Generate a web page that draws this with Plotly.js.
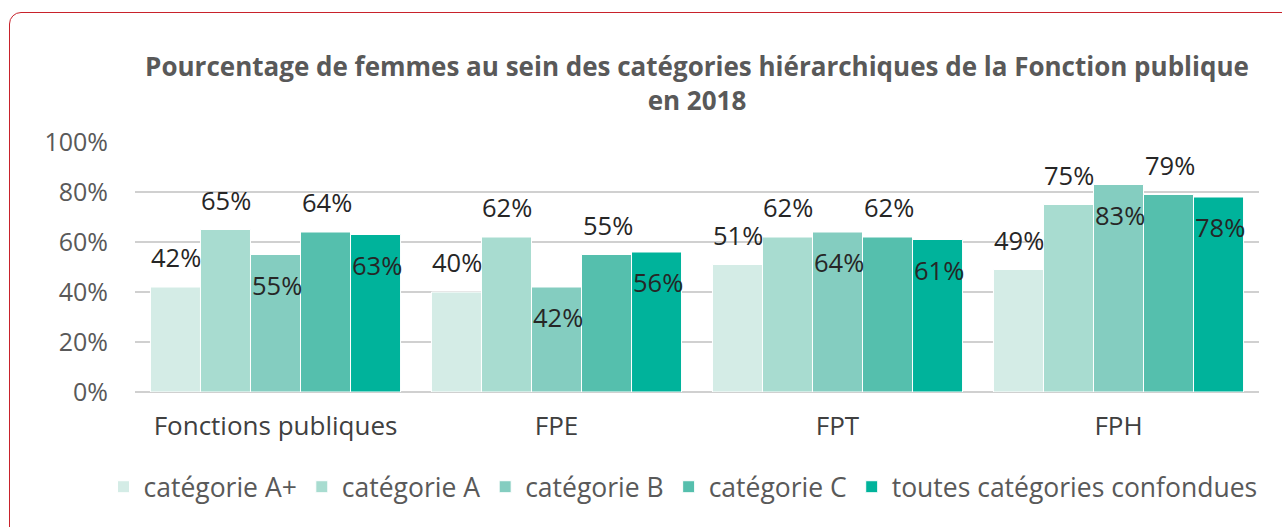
<!DOCTYPE html>
<html>
<head>
<meta charset="utf-8">
<script src="https://cdn.plot.ly/plotly-3.0.1.min.js"></script>
<style>
  html, body { margin: 0; padding: 0; background: #ffffff; overflow: hidden; }
  #chart { width: 1282px; height: 527px; position: absolute; left: 0; top: 0; }
  #frame { position: absolute; left: 9px; top: 12px; width: 1400px; height: 700px;
           border: 1.5px solid #c8222b; border-radius: 12px; pointer-events: none; box-sizing: border-box; }
</style>
</head>
<body>
<div id="chart"></div>
<div id="frame"></div>
<script>
const categories = ["Fonctions publiques", "FPE", "FPT", "FPH"];
const seriesNames = ["catégorie A+", "catégorie A", "catégorie B", "catégorie C", "toutes catégories confondues"];
const catAPlus = [0.42, 0.40, 0.51, 0.49];
const catA = [0.65, 0.62, 0.62, 0.75];
const catB = [0.55, 0.42, 0.64, 0.83];
const catC = [0.64, 0.55, 0.62, 0.79];
const toutes = [0.63, 0.56, 0.61, 0.78];
const seriesValues = [catAPlus, catA, catB, catC, toutes];
const colors = ["#d4ece6", "#a8dcd0", "#84cdc0", "#55bfad", "#00b39b"];
// label placement per series: above (-1) or inside (+1) the bar top
const labelSide = [-1, -1, 1, -1, 1];

const FONT = "'Open Sans', sans-serif";

const traces = seriesValues.map((vals, i) => ({
  type: "bar",
  name: seriesNames[i],
  x: categories,
  y: vals,
  marker: { color: colors[i], line: { color: "#ffffff", width: 1 } },
  hoverinfo: "skip"
}));

const bargap = 0.11;
const plotLeft = 135, plotRight = 1259;
const catWidth = (plotRight - plotLeft) / categories.length;
const barW = catWidth * (1 - bargap) / seriesValues.length;

const annotations = [];
seriesValues.forEach((vals, i) => {
  vals.forEach((v, j) => {
    annotations.push({
      x: categories[j], y: v, xref: "x", yref: "y",
      text: Math.round(v * 100) + "%",
      showarrow: false,
      xshift: (i - 2) * barW + 1,
      yshift: -labelSide[i] * 30,
      font: { family: FONT, size: 25.5, color: "#262626" }
    });
  });
});

const layout = {
  width: 1282, height: 527,
  margin: { l: plotLeft, r: 1282 - plotRight, t: 142, b: 135, autoexpand: false },
  paper_bgcolor: "#ffffff", plot_bgcolor: "#ffffff",
  barmode: "group", bargap: bargap, bargroupgap: 0,
  title: {
    text: "<b>Pourcentage de femmes au sein des catégories hiérarchiques de la Fonction publique<br>en 2018</b>",
    font: { family: FONT, size: 26, color: "#595959" },
    x: 0.5, xref: "paper", xanchor: "center",
    y: 1 - 76 / 527, yref: "container", yanchor: "middle"
  },
  xaxis: {
    type: "category",
    tickfont: { family: FONT, size: 26, color: "#404040" },
    showgrid: false, showline: false, zeroline: false,
    ticks: "outside", ticklen: 11, tickcolor: "rgba(0,0,0,0)"
  },
  yaxis: {
    range: [0, 1], dtick: 0.2, tickformat: ".0%",
    tickfont: { family: FONT, size: 25, color: "#595959" },
    showgrid: true, gridcolor: "#d0d0d0", gridwidth: 1.5,
    zeroline: true, zerolinecolor: "#d0d0d0", zerolinewidth: 1.5,
    showline: false,
    ticks: "outside", ticklen: 21, tickcolor: "rgba(0,0,0,0)"
  },
  legend: {
    orientation: "h", x: -0.028, xanchor: "left", y: -0.38, yanchor: "middle",
    font: { family: FONT, size: 26.5, color: "#595959" },
    itemwidth: 30, traceorder: "normal"
  },
  annotations: annotations,
  showlegend: true
};

Plotly.newPlot("chart", traces, layout, { displayModeBar: false, staticPlot: true });
</script>
</body>
</html>
